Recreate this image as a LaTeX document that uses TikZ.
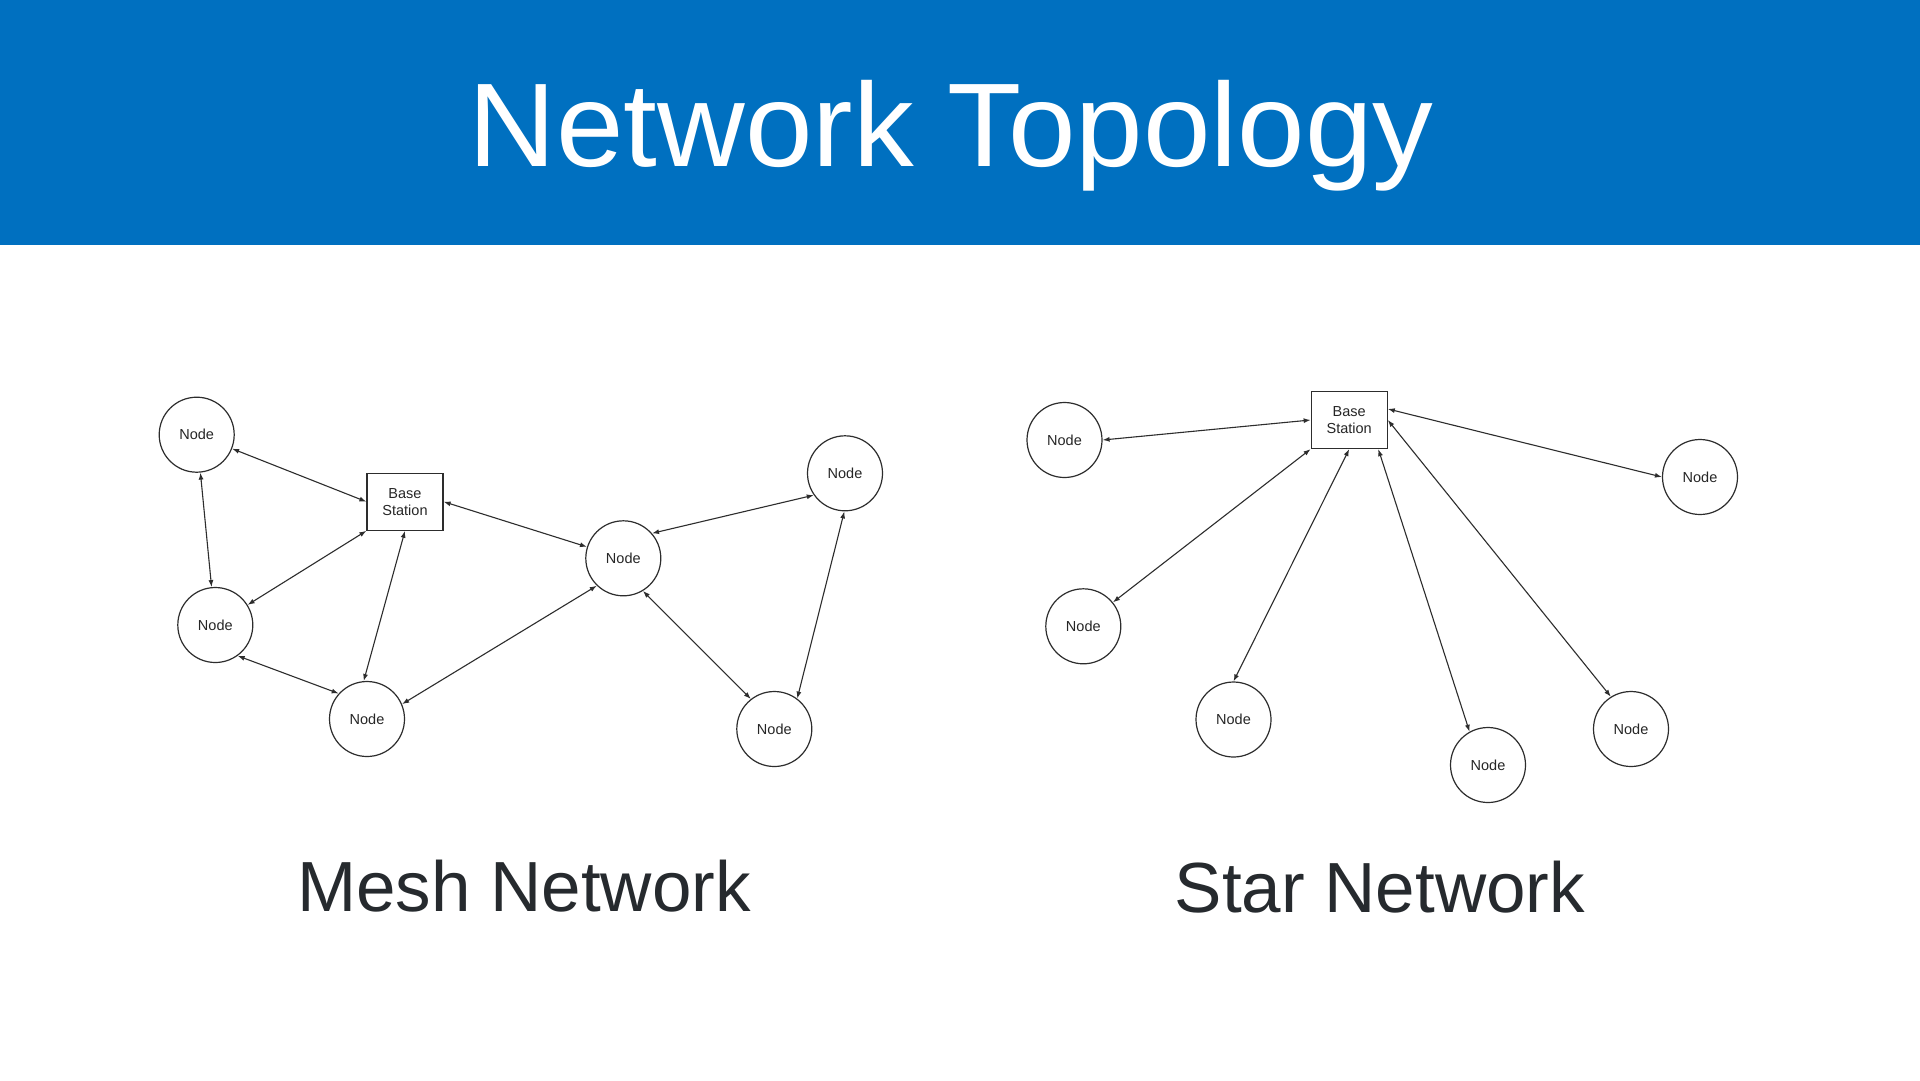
\documentclass[tikz,border=0pt]{standalone}
\usepackage{fontspec}
\setmainfont{Liberation Sans}
\usetikzlibrary{arrows.meta}
\definecolor{banner}{RGB}{0,112,192}
\definecolor{subtxt}{RGB}{38,42,46}
\definecolor{linec}{RGB}{45,45,45}
\tikzset{
  netnode/.style={circle, draw=linec, line width=1.2pt, minimum size=75pt, inner sep=0pt,
    font=\fontsize{14.5}{17}\selectfont, text=black!85},
  basest/.style={rectangle, draw=linec, line width=1.2pt, minimum width=76pt, minimum height=57pt,
    inner sep=0pt, align=center, font=\fontsize{14.5}{17}\selectfont, text=black!85},
  conn/.style={draw=linec, line width=1.1pt, {Latex[length=7pt,width=5pt]}-{Latex[length=7pt,width=5pt]}},
  subtitle/.style={anchor=base, text=subtxt, font=\fontsize{71}{80}\selectfont, inner sep=0pt}
}
\begin{document}
\begin{tikzpicture}[x=1pt,y=-1pt]
\useasboundingbox (0,0) rectangle (1920,1080);
\fill[white] (0,0) rectangle (1920,1080);
\fill[banner] (0,0) rectangle (1920,245);
\node[anchor=base, text=white, font=\fontsize{119}{130}\selectfont, inner sep=0pt, xscale=1.02] (title) at (951,166) {Network Topology};

% Mesh network
\node[netnode] (n1) at (196.7,434.7) {Node};
\node[basest] (bsm) at (405,501.7) {Base\\Station};
\node[netnode] (n2) at (215.3,625) {Node};
\node[netnode] (n3) at (367,719) {Node};
\node[netnode] (n4) at (623.3,558.3) {Node};
\node[netnode] (n5) at (845,473.3) {Node};
\node[netnode] (n6) at (774.3,729) {Node};

\draw[conn] (n1) -- (bsm.west);
\draw[conn] (n1) -- (n2);
\draw[conn] (bsm.south west) -- (n2);
\draw[conn] (bsm.south) -- (n3.95);
\draw[conn] (bsm.east) -- (n4);
\draw[conn] (n2.-54) -- (n3.138);
\draw[conn] (n3.23) -- (n4.226);
\draw[conn] (n4.41.6) -- (n5.215.6);
\draw[conn] (n4.-59.4) -- (n6.128);
\draw[conn] (n5.-91) -- (n6.53.4);

\node[subtitle] (meshlbl) at (524,911.7) {Mesh Network};

% Star network
\node[basest] (bss) at (1349.2,420) {Base\\Station};
\node[netnode] (s1) at (1064.5,440) {Node};
\node[netnode] (s2) at (1083.3,626.3) {Node};
\node[netnode] (s3) at (1233.5,719.5) {Node};
\node[netnode] (s4) at (1488,765) {Node};
\node[netnode] (s5) at (1631,729) {Node};
\node[netnode] (s6) at (1700,477) {Node};

\draw[conn] (s1.east) -- (bss.west);
\draw[conn] (s2.39.8) -- (bss.south west);
\draw[conn] (bss.south) -- (s3.north);
\draw[conn] (bss.-45) -- (s4.119.4);
\draw[conn] (bss.east) -- (s5.122.5);
\draw[conn] (bss.16) -- (s6.west);

\node[subtitle] (starlbl) at (1380,912) {Star Network};
\end{tikzpicture}
\end{document}
